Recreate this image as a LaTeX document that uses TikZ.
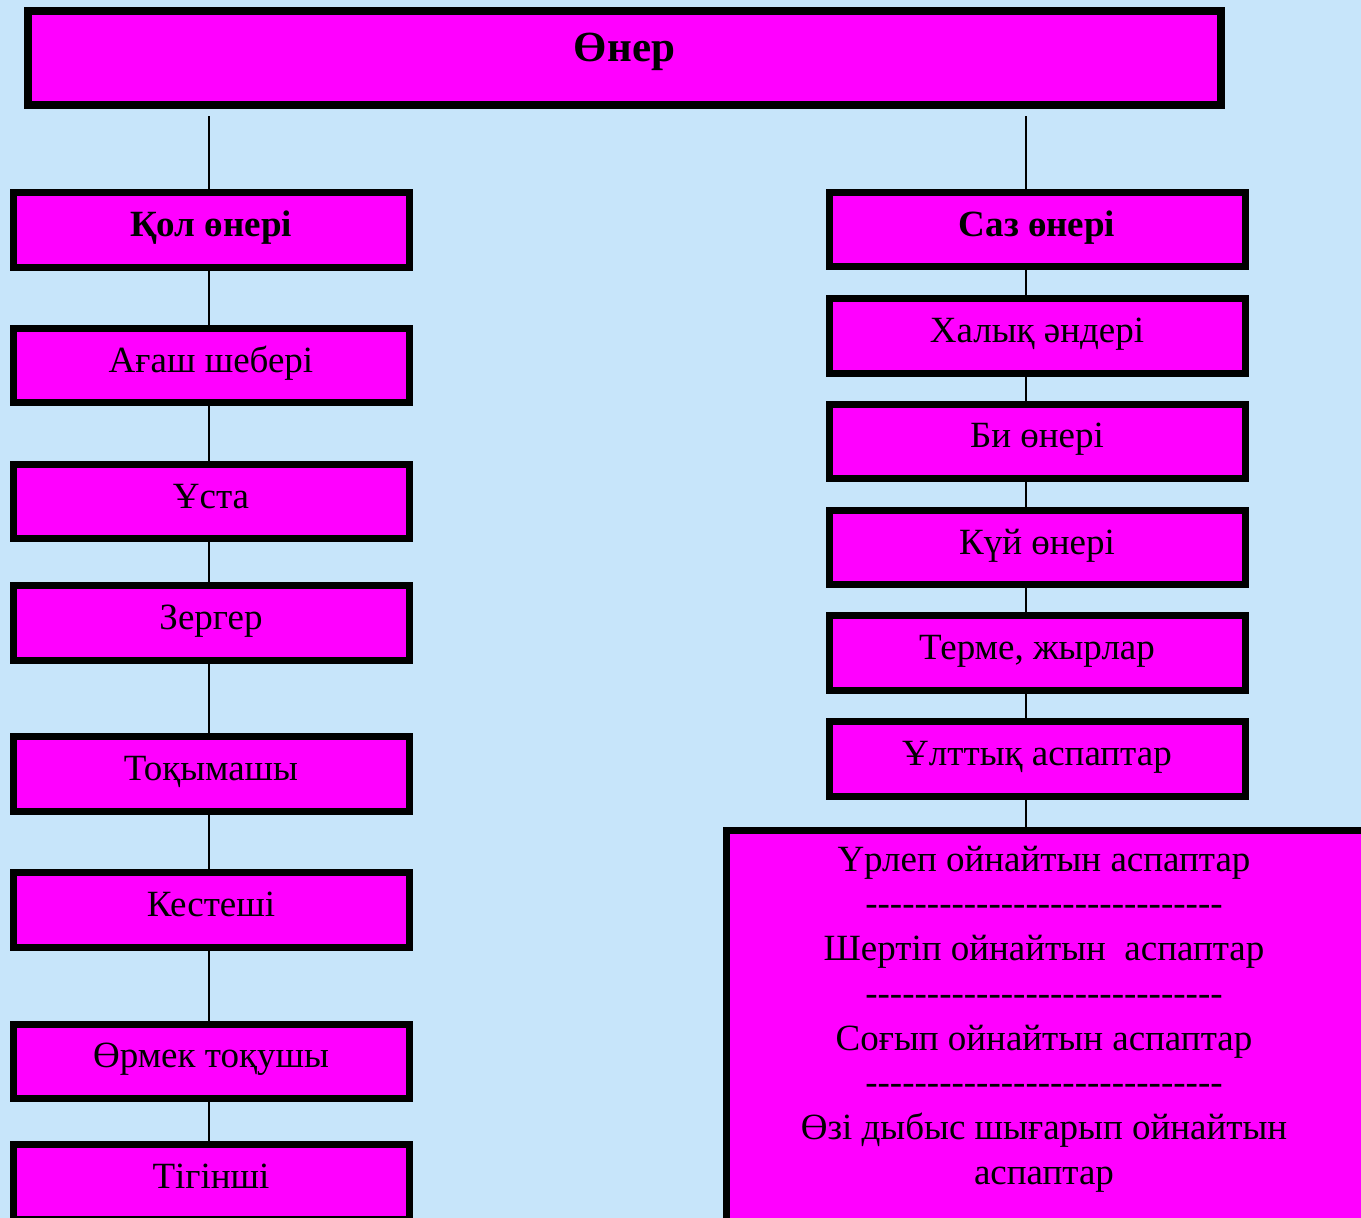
\documentclass[tikz,border=0pt]{standalone}
\usepackage{fontspec}
\setmainfont{Liberation Serif}
\definecolor{bgblue}{RGB}{199,229,250}
\definecolor{mag}{RGB}{255,0,255}
\begin{document}
\begin{tikzpicture}[x=1pt,y=-1pt,
  box/.style={draw=black, fill=mag, line width=7pt, inner sep=0pt,
    minimum height=74.5pt, text height=22pt, text depth=9pt,
    font=\fontsize{37}{44}\selectfont},
  boldtxt/.style={font=\bfseries\fontsize{37}{44}\selectfont},
  lbox/.style={box, minimum width=396pt},
  rbox/.style={box, minimum width=416pt},
  conn/.style={draw=black, line width=2pt}]
\useasboundingbox (0,0) rectangle (1361,1218);
\fill[bgblue] (0,0) rectangle (1361,1218);
\clip (0,0) rectangle (1361,1218);

% top
\node[box, line width=8pt, minimum width=1193.5pt, minimum height=94.5pt,
  text height=22pt, text depth=15.5pt, font=\bfseries\fontsize{43}{50}\selectfont]
  (oner) at (624.5,57.75) {Өнер};

% left column
\node[lbox, boldtxt] (kol)    at (211,230)    {Қол өнері};
\node[lbox] (agash)  at (211,365.5)  {Ағаш шебері};
\node[lbox] (usta)   at (211,501.7)  {Ұста};
\node[lbox] (zerger) at (211,622.8)  {Зергер};
\node[lbox] (tokym)  at (211,774)    {Тоқымашы};
\node[lbox] (keste)  at (211,910)    {Кестеші};
\node[lbox] (ormek)  at (211,1061.3) {Өрмек тоқушы};
\node[lbox] (tigin)  at (211,1182)   {Тігінші};

% right column
\node[rbox, boldtxt] (saz) at (1037,229.7) {Саз өнері};
\node[rbox] (halyk)  at (1037,335.8) {Халық әндері};
\node[rbox] (bi)     at (1037,441.3) {Би өнері};
\node[rbox] (kui)    at (1037,547.5) {Күй өнері};
\node[rbox] (terme)  at (1037,653)   {Терме, жырлар};
\node[rbox] (ulttyk) at (1037,759.2) {Ұлттық аспаптар};

% big box
\node[draw=black, fill=mag, line width=7pt, inner sep=0pt, anchor=north west,
  minimum width=700pt, minimum height=450pt] (big) at (723,827) {};
\node[anchor=north, inner sep=0pt, align=center, font=\fontsize{37}{44.7}\selectfont]
  (instr) at (1044,841) {\rule{0pt}{30pt}Үрлеп ойнайтын аспаптар\\
  -{}-{}-{}-{}-{}-{}-{}-{}-{}-{}-{}-{}-{}-{}-{}-{}-{}-{}-{}-{}-{}-{}-{}-{}-{}-{}-{}-{}-\\
  Шертіп ойнайтын\ \ аспаптар\\
  -{}-{}-{}-{}-{}-{}-{}-{}-{}-{}-{}-{}-{}-{}-{}-{}-{}-{}-{}-{}-{}-{}-{}-{}-{}-{}-{}-{}-\\
  Соғып ойнайтын аспаптар\\
  -{}-{}-{}-{}-{}-{}-{}-{}-{}-{}-{}-{}-{}-{}-{}-{}-{}-{}-{}-{}-{}-{}-{}-{}-{}-{}-{}-{}-\\
  Өзі дыбыс шығарып ойнайтын\\
  аспаптар};

% connectors
\coordinate (tL) at (209,116);
\coordinate (tR) at (1025.5,116);
\draw[conn] (tL) -- (tL |- kol.north);
\draw[conn] (kol.south -| tL) -- (agash.north -| tL);
\draw[conn] (agash.south -| tL) -- (usta.north -| tL);
\draw[conn] (usta.south -| tL) -- (zerger.north -| tL);
\draw[conn] (zerger.south -| tL) -- (tokym.north -| tL);
\draw[conn] (tokym.south -| tL) -- (keste.north -| tL);
\draw[conn] (keste.south -| tL) -- (ormek.north -| tL);
\draw[conn] (ormek.south -| tL) -- (tigin.north -| tL);
\draw[conn] (tR) -- (tR |- saz.north);
\draw[conn] (saz.south -| tR) -- (halyk.north -| tR);
\draw[conn] (halyk.south -| tR) -- (bi.north -| tR);
\draw[conn] (bi.south -| tR) -- (kui.north -| tR);
\draw[conn] (kui.south -| tR) -- (terme.north -| tR);
\draw[conn] (terme.south -| tR) -- (ulttyk.north -| tR);
\draw[conn] (ulttyk.south -| tR) -- (big.north -| tR);
\end{tikzpicture}
\end{document}
